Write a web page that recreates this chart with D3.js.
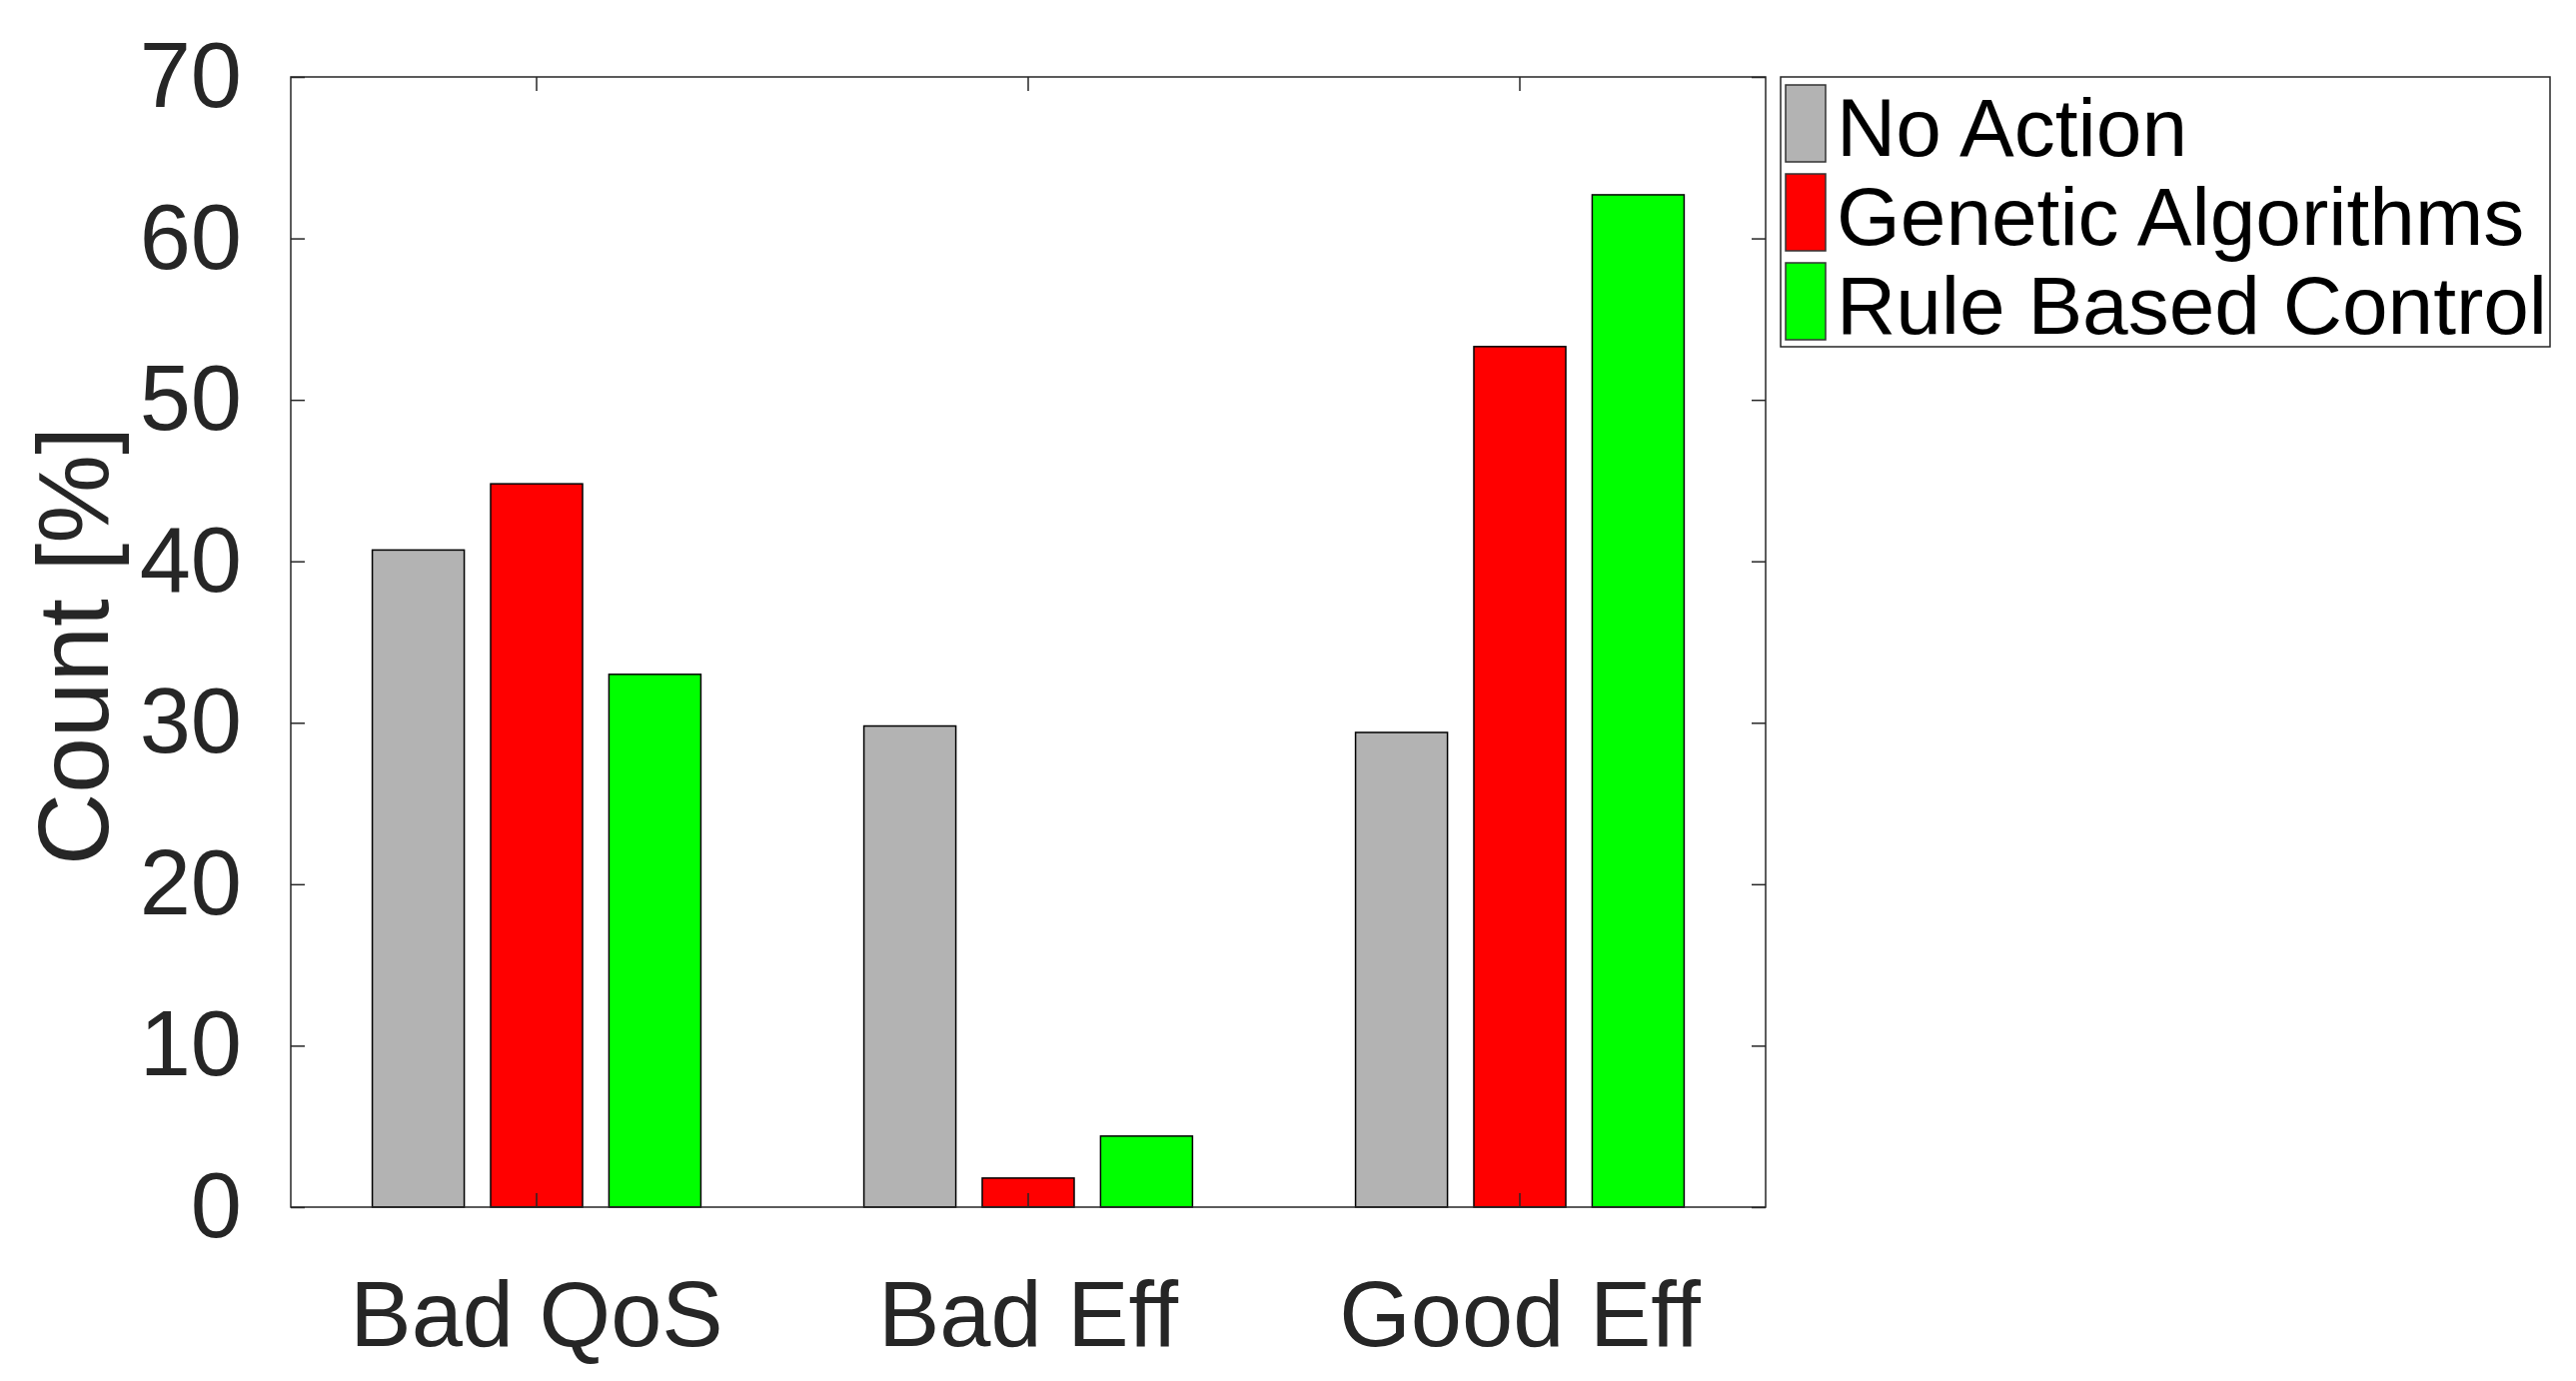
<!DOCTYPE html>
<html>
<head>
<meta charset="utf-8">
<script src="https://cdn.jsdelivr.net/npm/d3@7"></script>
<style>
  html, body { margin: 0; padding: 0; background: #fff; }
  svg { display: block; font-family: "Liberation Sans", Arial, Helvetica, sans-serif; }
</style>
</head>
<body>
<svg id="chart" width="2578" height="1382"></svg>
<script>
// chart values
var categories = ["Bad QoS", "Bad Eff", "Good Eff"];
var seriesNames = ["No Action", "Genetic Algorithms", "Rule Based Control"];
var seriesColors = ["#b3b3b3", "#ff0000", "#00ff00"];
var noAction = [40.7, 29.8, 29.4];
var geneticAlgorithms = [44.8, 1.8, 53.3];
var ruleBasedControl = [33.0, 4.4, 62.7];
var yTicks = [0, 10, 20, 30, 40, 50, 60, 70];

var svg = d3.select("svg#chart");
var margin = {top: 77, left: 291},
    width = 1476,
    height = 1131;
var g = svg.append("g").attr("transform", "translate(" + margin.left + "," + margin.top + ")");

var x = d3.scaleBand().domain(categories).range([0, width]).padding(0);
var xSub = d3.scaleBand().domain(seriesNames).range([0, x.bandwidth()])
    .paddingInner(0.223).paddingOuter(0.689);
var y = d3.scaleLinear().domain([0, 70]).range([height, 0]);

var seriesValues = [noAction, geneticAlgorithms, ruleBasedControl];
var rows = [];
seriesNames.forEach(function (s, i) {
    categories.forEach(function (c, j) {
        rows.push({series: s, category: c, value: seriesValues[i][j], color: seriesColors[i]});
    });
});

// plot background
g.append("rect").attr("width", width).attr("height", height).attr("fill", "#fff");

// bars
g.selectAll("rect.bar").data(rows).enter().append("rect")
    .attr("class", "bar")
    .attr("x", function (d) { return x(d.category) + xSub(d.series); })
    .attr("width", xSub.bandwidth())
    .attr("y", function (d) { return y(d.value); })
    .attr("height", function (d) { return height - y(d.value); })
    .attr("fill", function (d) { return d.color; })
    .attr("stroke", "#000")
    .attr("stroke-width", 1.5);

var axisColor = "#262626";
function styleAxis(sel, showText) {
    sel.select(".domain").remove();
    sel.selectAll(".tick line").attr("stroke", axisColor).attr("stroke-width", 1.5);
    if (!showText) sel.selectAll(".tick text").remove();
    sel.selectAll(".tick text").attr("fill", axisColor).style("font-size", "92px");
}

g.append("g")
    .call(d3.axisLeft(y).tickValues(yTicks).tickSizeInner(-14).tickSizeOuter(0).tickPadding(49))
    .call(styleAxis, true);
g.append("g")
    .attr("transform", "translate(" + width + ",0)")
    .call(d3.axisRight(y).tickValues(yTicks).tickSizeInner(-14).tickSizeOuter(0))
    .call(styleAxis, false);
g.append("g")
    .attr("transform", "translate(0," + height + ")")
    .call(d3.axisBottom(x).tickSizeInner(-14).tickSizeOuter(0).tickPadding(74))
    .call(styleAxis, true);
g.append("g")
    .call(d3.axisTop(x).tickSizeInner(-14).tickSizeOuter(0))
    .call(styleAxis, false);

// box
g.append("rect").attr("width", width).attr("height", height)
    .attr("fill", "none").attr("stroke", axisColor).attr("stroke-width", 1.5);

// y label
svg.append("text")
    .attr("transform", "translate(108," + (margin.top + height / 2 + 4) + ") rotate(-90)")
    .attr("text-anchor", "middle")
    .attr("fill", axisColor)
    .style("font-size", "100px")
    .text("Count [%]");

// legend
var legend = svg.append("g").attr("transform", "translate(1782,77)");
legend.append("rect").attr("width", 770).attr("height", 270)
    .attr("fill", "#fff").attr("stroke", axisColor).attr("stroke-width", 1.5);
var item = legend.selectAll("g.item").data(seriesNames).enter().append("g")
    .attr("class", "item")
    .attr("transform", function (d, i) { return "translate(0," + (8 + i * 89) + ")"; });
item.append("rect")
    .attr("x", 5).attr("width", 40).attr("height", 77)
    .attr("fill", function (d, i) { return seriesColors[i]; })
    .attr("stroke", "#333").attr("stroke-width", 1.5);
item.append("text")
    .attr("x", 56).attr("y", 71)
    .attr("fill", "#000")
    .style("font-size", "82px")
    .text(function (d) { return d; });
</script>
</body>
</html>
